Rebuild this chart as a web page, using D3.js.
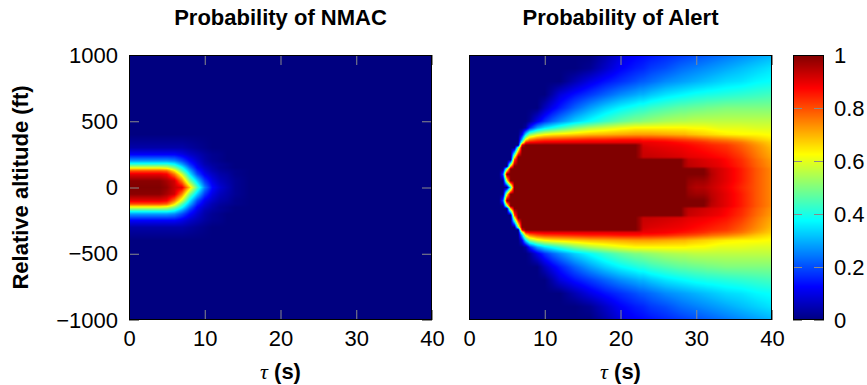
<!DOCTYPE html>
<html>
<head>
<meta charset="utf-8">
<script src="https://cdn.jsdelivr.net/npm/d3@7"></script>
<style>
  body { margin: 0; background: #fff; }
</style>
</head>
<body>
<svg id="chart" width="867" height="385"></svg>
<script>
// ---- data ----------------------------------------------------------------
const titles = ["Probability of NMAC", "Probability of Alert"];
const xTicks = [0, 10, 20, 30, 40];
const yTicks = [-1000, -500, 0, 500, 1000];
const cTicks = [0, 0.2, 0.4, 0.6, 0.8, 1];

// NMAC grid: tau (s) columns, altitude (ft) rows from top to bottom
const tauNmac = [0, 1, 2, 3, 4, 5, 6, 7, 8, 9, 10, 11, 12, 13, 14, 16, 40];
const altNmac = [1000, 400, 300, 250, 200, 175, 150, 125, 100, 50, 0,
  -50, -100, -125, -150, -175, -200, -250, -300, -400, -1000];
const pNmac = [
  [0,0,0,0,0,0,0,0,0,0,0,0,0,0,0,0,0],
  [0,0,0,0,0,0,0,0,0,0,0,0,0,0,0,0,0],
  [.04,.04,.04,.04,.04,.04,.04,.04,.03,.02,.01,0,0,0,0,0,0],
  [.12,.12,.12,.12,.12,.12,.12,.1,.07,.05,.03,.015,.01,0,0,0,0],
  [.28,.28,.28,.28,.28,.28,.26,.2,.13,.08,.04,.02,.01,0,0,0,0],
  [.42,.42,.42,.42,.42,.42,.38,.28,.17,.1,.05,.03,.02,.01,0,0,0],
  [.6,.6,.6,.6,.6,.58,.5,.38,.23,.12,.07,.04,.02,.01,0,0,0],
  [.8,.8,.8,.8,.8,.78,.65,.46,.3,.16,.09,.05,.03,.02,.01,0,0],
  [.9,.9,.9,.9,.9,.88,.76,.58,.36,.2,.11,.07,.04,.03,.01,0,0],
  [.99,.99,.99,.99,.99,.96,.92,.75,.5,.33,.18,.1,.06,.04,.02,0,0],
  [1,1,1,1,1,.98,.93,.9,.68,.45,.25,.13,.08,.05,.02,0,0],
  [.99,.99,.99,.99,.99,.96,.92,.75,.5,.33,.18,.1,.06,.04,.02,0,0],
  [.9,.9,.9,.9,.9,.88,.76,.58,.36,.2,.11,.07,.04,.03,.01,0,0],
  [.8,.8,.8,.8,.8,.78,.65,.46,.3,.16,.09,.05,.03,.02,.01,0,0],
  [.6,.6,.6,.6,.6,.58,.5,.38,.23,.12,.07,.04,.02,.01,0,0,0],
  [.42,.42,.42,.42,.42,.42,.38,.28,.17,.1,.05,.03,.02,.01,0,0,0],
  [.28,.28,.28,.28,.28,.28,.26,.2,.13,.08,.04,.02,.01,0,0,0,0],
  [.12,.12,.12,.12,.12,.12,.12,.1,.07,.05,.03,.015,.01,0,0,0,0],
  [.04,.04,.04,.04,.04,.04,.04,.04,.03,.02,.01,0,0,0,0,0,0],
  [0,0,0,0,0,0,0,0,0,0,0,0,0,0,0,0,0],
  [0,0,0,0,0,0,0,0,0,0,0,0,0,0,0,0,0]
];

// Alert grid
const tauAlert = [0, 4, 4.5, 5, 5.5, 6, 6.5, 7, 7.5, 8, 9, 10, 11, 12, 14, 16, 18, 20, 22, 22.5,
  23, 24, 26, 28, 28.5, 29, 30, 31, 31.5, 32, 33, 34, 36, 38, 40];
const altAlert = [1000, 900, 800, 700, 600, 500, 450, 400, 360, 340, 320, 300, 230, 210, 160, 140, 100, 50, 0,
  -50, -100, -140, -160, -210, -230, -300, -320, -340, -360, -400, -450, -500, -600, -700, -800, -900, -1000];
const pAlert = [
  [0,0,0,0,0,0,0,0,0,0,0,0,0,0,0,0,.04,.09,.12,.125,.13,.14,.16,.18,.185,.19,.2,.21,.215,.22,.23,.24,.26,.28,.3],
  [0,0,0,0,0,0,0,0,0,0,0,0,0,0,0,.02,.07,.12,.15,.155,.16,.18,.2,.23,.235,.24,.25,.26,.265,.27,.28,.29,.31,.33,.35],
  [0,0,0,0,0,0,0,0,0,0,0,0,0,0,.05,.1,.14,.17,.2,.21,.215,.23,.26,.28,.285,.29,.3,.31,.315,.32,.33,.34,.35,.37,.38],
  [0,0,0,0,0,0,0,0,0,0,0,0,.04,.09,.14,.18,.22,.26,.29,.3,.3,.32,.35,.37,.375,.38,.39,.395,.4,.4,.405,.41,.42,.43,.44],
  [0,0,0,0,0,0,0,0,0,0,0,.06,.11,.15,.22,.28,.33,.37,.4,.41,.41,.43,.45,.47,.47,.475,.48,.485,.49,.49,.495,.5,.5,.5,.5],
  [0,0,0,0,0,0,0,0,0,.02,.1,.17,.22,.26,.33,.38,.43,.47,.5,.5,.51,.52,.54,.55,.55,.555,.56,.56,.56,.56,.56,.56,.56,.56,.56],
  [0,0,0,0,0,0,0,0,.03,.15,.28,.35,.39,.43,.5,.55,.58,.61,.63,.63,.63,.63,.63,.63,.63,.625,.62,.62,.615,.61,.6,.6,.6,.59,.59],
  [0,0,0,0,0,0,0,.1,.35,.5,.58,.62,.64,.65,.67,.69,.7,.71,.72,.72,.72,.72,.71,.7,.7,.69,.68,.67,.665,.66,.65,.64,.63,.63,.62],
  [0,0,0,0,0,0,0,.3,.65,.75,.8,.82,.825,.83,.84,.85,.85,.86,.86,.86,.85,.85,.84,.82,.815,.81,.8,.785,.78,.77,.76,.75,.72,.68,.65],
  [0,0,0,0,0,0,0,.5,.85,.88,.89,.9,.9,.9,.9,.9,.9,.9,.9,.9,.89,.89,.88,.86,.855,.85,.84,.83,.82,.81,.8,.79,.76,.71,.67],
  [0,0,0,0,0,0,0,.9,1,1,1,1,1,1,1,1,1,1,1,.97,.91,.9,.89,.88,.875,.87,.86,.85,.845,.84,.83,.82,.78,.73,.68],
  [0,0,0,0,0,0,.5,1,1,1,1,1,1,1,1,1,1,1,1,.97,.92,.91,.9,.89,.885,.88,.87,.86,.855,.85,.84,.83,.79,.74,.69],
  [0,0,0,0,0,.6,1,1,1,1,1,1,1,1,1,1,1,1,1,.97,.93,.93,.92,.91,.905,.9,.895,.89,.885,.88,.87,.86,.82,.76,.71],
  [0,0,0,0,0,.8,1,1,1,1,1,1,1,1,1,1,1,1,1,1,1,1,1,1,.96,.93,.92,.91,.905,.9,.89,.87,.83,.77,.72],
  [0,0,0,0,.7,1,1,1,1,1,1,1,1,1,1,1,1,1,1,1,1,1,1,1,.96,.94,.93,.92,.915,.91,.9,.88,.84,.78,.73],
  [0,0,0,.5,1,1,1,1,1,1,1,1,1,1,1,1,1,1,1,1,1,1,1,1,1,1,1,1,.97,.94,.92,.9,.85,.79,.74],
  [0,0,.2,1,1,1,1,1,1,1,1,1,1,1,1,1,1,1,1,1,1,1,1,1,1,1,1,1,.98,.95,.92,.9,.85,.79,.74],
  [0,0,0,.6,1,1,1,1,1,1,1,1,1,1,1,1,1,1,1,1,1,1,1,1,1,.98,.97,.97,.96,.94,.92,.9,.85,.79,.74],
  [0,0,0,0,.4,1,1,1,1,1,1,1,1,1,1,1,1,1,1,1,1,1,1,1,1,.97,.95,.95,.94,.93,.91,.89,.84,.79,.74],
  [0,0,0,.6,1,1,1,1,1,1,1,1,1,1,1,1,1,1,1,1,1,1,1,1,1,.98,.97,.97,.96,.94,.92,.9,.85,.79,.74],
  [0,0,.2,1,1,1,1,1,1,1,1,1,1,1,1,1,1,1,1,1,1,1,1,1,1,1,1,1,.98,.95,.92,.9,.85,.79,.74],
  [0,0,0,.5,1,1,1,1,1,1,1,1,1,1,1,1,1,1,1,1,1,1,1,1,1,1,1,1,.97,.94,.92,.9,.85,.79,.74],
  [0,0,0,0,.7,1,1,1,1,1,1,1,1,1,1,1,1,1,1,1,1,1,1,1,.96,.94,.93,.92,.915,.91,.9,.88,.84,.78,.73],
  [0,0,0,0,0,.8,1,1,1,1,1,1,1,1,1,1,1,1,1,1,1,1,1,1,.96,.93,.92,.91,.905,.9,.89,.87,.83,.77,.72],
  [0,0,0,0,0,.6,1,1,1,1,1,1,1,1,1,1,1,1,1,.97,.93,.93,.92,.91,.905,.9,.895,.89,.885,.88,.87,.86,.82,.76,.71],
  [0,0,0,0,0,0,.5,1,1,1,1,1,1,1,1,1,1,1,1,.97,.92,.91,.9,.89,.885,.88,.87,.86,.855,.85,.84,.83,.79,.74,.69],
  [0,0,0,0,0,0,0,.9,1,1,1,1,1,1,1,1,1,1,1,.97,.91,.9,.89,.88,.875,.87,.86,.85,.845,.84,.83,.82,.78,.73,.68],
  [0,0,0,0,0,0,0,.5,.85,.88,.89,.9,.9,.9,.9,.9,.9,.9,.9,.9,.89,.89,.88,.86,.855,.85,.84,.83,.82,.81,.8,.79,.76,.71,.67],
  [0,0,0,0,0,0,0,.3,.65,.75,.8,.82,.825,.83,.84,.85,.85,.86,.86,.86,.85,.85,.84,.82,.815,.81,.8,.785,.78,.77,.76,.75,.72,.68,.65],
  [0,0,0,0,0,0,0,.1,.35,.5,.58,.62,.64,.65,.67,.69,.7,.71,.72,.72,.72,.72,.71,.7,.7,.69,.68,.67,.665,.66,.65,.64,.63,.63,.62],
  [0,0,0,0,0,0,0,0,.03,.15,.28,.35,.39,.43,.5,.55,.58,.61,.63,.63,.63,.63,.63,.63,.63,.625,.62,.62,.615,.61,.6,.6,.6,.59,.59],
  [0,0,0,0,0,0,0,0,0,.02,.1,.17,.22,.26,.33,.38,.43,.47,.5,.5,.51,.52,.54,.55,.55,.555,.56,.56,.56,.56,.56,.56,.56,.56,.56],
  [0,0,0,0,0,0,0,0,0,0,0,.06,.11,.15,.22,.28,.33,.37,.4,.41,.41,.43,.45,.47,.47,.475,.48,.485,.49,.49,.495,.5,.5,.5,.5],
  [0,0,0,0,0,0,0,0,0,0,0,0,.04,.09,.14,.18,.22,.26,.29,.3,.3,.32,.35,.37,.375,.38,.39,.395,.4,.4,.405,.41,.42,.43,.44],
  [0,0,0,0,0,0,0,0,0,0,0,0,0,0,.05,.1,.14,.17,.2,.21,.215,.23,.26,.28,.285,.29,.3,.31,.315,.32,.33,.34,.35,.37,.38],
  [0,0,0,0,0,0,0,0,0,0,0,0,0,0,0,.02,.07,.12,.15,.155,.16,.18,.2,.23,.235,.24,.25,.26,.265,.27,.28,.29,.31,.33,.35],
  [0,0,0,0,0,0,0,0,0,0,0,0,0,0,0,0,.04,.09,.12,.125,.13,.14,.16,.18,.185,.19,.2,.21,.215,.22,.23,.24,.26,.28,.3]
];

// ---- sanity check on the grids ---------------------------------------------
[[pNmac, tauNmac, altNmac], [pAlert, tauAlert, altAlert]].forEach(([g, t, a]) => {
  if (g.length !== a.length) throw new Error("rows " + g.length + " vs " + a.length);
  g.forEach((r, k) => {
    if (r.length !== t.length) throw new Error("row " + a[k] + " has " + r.length + " values");
  });
});

// ---- layout ---------------------------------------------------------------
const font = "'Liberation Sans', Arial, Helvetica, sans-serif";
const fontSize = 22;
const tickColor = "#8a8a8a";
const plotTop = 55, plotH = 265, plotW = 303;
const cbar = { x: 793, w: 31 };

const jet = d3.scaleLinear()
  .domain([0, 0.125, 0.375, 0.625, 0.875, 1])
  .range(["#000080", "#0000ff", "#00ffff", "#ffff00", "#ff0000", "#800000"])
  .clamp(true);
const lut = d3.range(1001).map(i => d3.rgb(jet(i / 1000)));

const svg = d3.select("#chart");

const y = d3.scaleLinear().domain([-1000, 1000]).range([plotTop + plotH, plotTop]);

// paints a grid with bilinear shading into a canvas, returns it as an <image>
function heatmap(g, x, taus, alts, grid) {
  const [x0, x1] = x.range();
  const w = Math.round(x1 - x0), h = plotH;
  const fi = d3.scaleLinear().domain(taus).range(d3.range(taus.length)).clamp(true);
  const fj = d3.scaleLinear().domain(alts).range(d3.range(alts.length)).clamp(true);
  const cv = document.createElement("canvas");
  cv.width = w; cv.height = h;
  const ctx = cv.getContext("2d");
  const img = ctx.createImageData(w, h);
  for (let py = 0; py < h; py++) {
    const fy = fj(y.invert(plotTop + py + 0.5));
    const j = Math.min(Math.floor(fy), alts.length - 2), dj = fy - j;
    for (let px = 0; px < w; px++) {
      const fx = fi(x.invert(x0 + px + 0.5));
      const i = Math.min(Math.floor(fx), taus.length - 2), di = fx - i;
      const v = (grid[j][i] * (1 - di) + grid[j][i + 1] * di) * (1 - dj)
              + (grid[j + 1][i] * (1 - di) + grid[j + 1][i + 1] * di) * dj;
      const c = lut[Math.round(Math.max(0, Math.min(1, v)) * 1000)];
      const k = (py * w + px) * 4;
      img.data[k] = c.r; img.data[k + 1] = c.g; img.data[k + 2] = c.b; img.data[k + 3] = 255;
    }
  }
  ctx.putImageData(img, 0, 0);
  g.append("image")
    .attr("x", x0).attr("y", plotTop)
    .attr("width", w).attr("height", h)
    .attr("preserveAspectRatio", "none")
    .attr("href", cv.toDataURL());
}

function styleAxis(g) {
  g.attr("font-size", fontSize).attr("font-family", font);
  g.select(".domain").remove();
  g.selectAll(".tick line").attr("stroke", tickColor);
  g.selectAll(".tick text").attr("fill", "#000");
}

const panels = [
  { title: titles[0], left: 129, taus: tauNmac, alts: altNmac, grid: pNmac, yTicks: true },
  { title: titles[1], left: 469, taus: tauAlert, alts: altAlert, grid: pAlert, yTicks: false }
];

panels.forEach(p => {
  const x = d3.scaleLinear().domain([0, 40]).range([p.left, p.left + plotW]);
  const g = svg.append("g");
  heatmap(g, x, p.taus, p.alts, p.grid);

  g.append("g")
    .attr("transform", `translate(0,${plotTop + plotH})`)
    .call(d3.axisBottom(x).tickValues(xTicks).tickSize(-10).tickPadding(10).tickFormat(d3.format("d")))
    .call(styleAxis);
  g.append("g")
    .attr("transform", `translate(0,${plotTop})`)
    .call(d3.axisTop(x).tickValues(xTicks).tickSize(-10).tickFormat(() => ""))
    .call(styleAxis);

  if (p.yTicks) {
    g.append("g")
      .attr("transform", `translate(${p.left},0)`)
      .call(d3.axisLeft(y).tickValues(yTicks).tickSize(-10).tickPadding(11).tickFormat(d3.format("d")))
      .call(styleAxis);
    g.append("g")
      .attr("transform", `translate(${p.left + plotW},0)`)
      .call(d3.axisRight(y).tickValues(yTicks).tickSize(-10).tickFormat(() => ""))
      .call(styleAxis);
  }

  g.append("rect")
    .attr("x", p.left + 0.5).attr("y", plotTop + 0.5)
    .attr("width", plotW - 1).attr("height", plotH - 1)
    .attr("fill", "none").attr("stroke", "#000").attr("stroke-width", 1);

  g.append("text")
    .attr("x", p.left + plotW / 2).attr("y", 25)
    .attr("text-anchor", "middle")
    .attr("font-family", font).attr("font-size", fontSize).attr("font-weight", "bold")
    .text(p.title);

  const xl = g.append("text")
    .attr("x", p.left + plotW / 2).attr("y", 379)
    .attr("text-anchor", "middle")
    .attr("font-family", font).attr("font-size", fontSize);
  xl.append("tspan")
    .attr("font-family", "'Liberation Serif', 'DejaVu Serif', serif")
    .attr("font-style", "italic")
    .text("τ");
  xl.append("tspan").attr("font-weight", "bold").text(" (s)");
});

svg.append("text")
  .attr("transform", `translate(28,${plotTop + plotH / 2}) rotate(-90)`)
  .attr("text-anchor", "middle")
  .attr("font-family", font).attr("font-size", fontSize).attr("font-weight", "bold")
  .text("Relative altitude (ft)");

// ---- colour bar ------------------------------------------------------------
const cy = d3.scaleLinear().domain([0, 1]).range([plotTop + plotH, plotTop]);
{
  const cv = document.createElement("canvas");
  cv.width = cbar.w; cv.height = plotH;
  const ctx = cv.getContext("2d");
  for (let py = 0; py < plotH; py++) {
    ctx.fillStyle = jet(cy.invert(plotTop + py + 0.5));
    ctx.fillRect(0, py, cbar.w, 1);
  }
  svg.append("image")
    .attr("x", cbar.x).attr("y", plotTop)
    .attr("width", cbar.w).attr("height", plotH)
    .attr("preserveAspectRatio", "none")
    .attr("href", cv.toDataURL());
}
svg.append("g")
  .attr("transform", `translate(${cbar.x + cbar.w},0)`)
  .call(d3.axisRight(cy).tickValues(cTicks).tickSize(-10).tickPadding(10).tickFormat(d3.format("~g")))
  .call(styleAxis);
svg.append("g")
  .attr("transform", `translate(${cbar.x},0)`)
  .call(d3.axisLeft(cy).tickValues(cTicks).tickSize(-9).tickFormat(() => ""))
  .call(styleAxis);
svg.append("rect")
  .attr("x", cbar.x + 0.5).attr("y", plotTop + 0.5)
  .attr("width", cbar.w - 1).attr("height", plotH - 1)
  .attr("fill", "none").attr("stroke", "#000").attr("stroke-width", 1);
</script>
</body>
</html>
